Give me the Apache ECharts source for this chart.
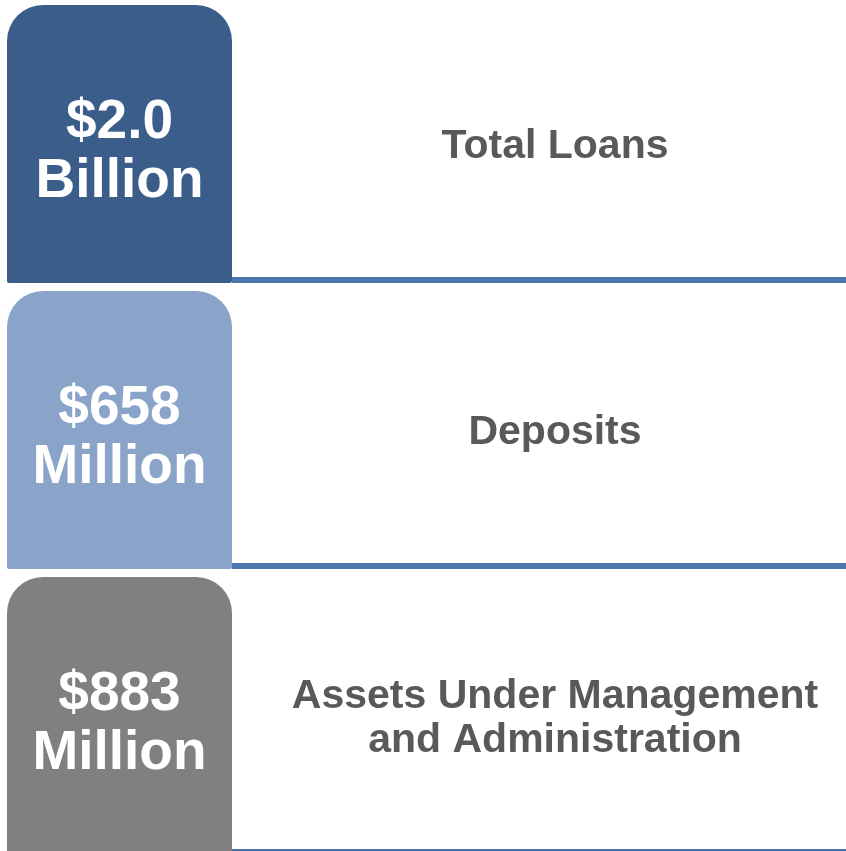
<!DOCTYPE html>
<html>
<head>
<meta charset="utf-8">
<script src="https://cdn.jsdelivr.net/npm/echarts@6/dist/echarts.min.js"></script>
<style>
  html, body { margin: 0; padding: 0; background: #fff; }
  #chart { width: 846px; height: 851px; }
</style>
</head>
<body>
<div id="chart"></div>
<script>
const categories = ['Total Loans', 'Deposits', 'Assets Under Management\nand Administration']
const amounts = ['$2.0', '$658', '$883']
const units = ['Billion', 'Million', 'Million']
const boxColors = ['#3a5d8a', '#8aa4c9', '#808080']

const FONT = '"Liberation Sans", Arial, sans-serif'

const chart = echarts.init(document.getElementById('chart'))

const renderRow = (params, api) => {
  const idx = api.value(1)
  const yc = api.coord([0, idx])[1]
  const band = api.size([0, 1])[1]
  const half = band / 2 - 4
  const boxL = api.coord([7, idx])[0]
  const boxR = api.coord([232, idx])[0]
  const lineR = api.coord([846, idx])[0]
  const labelX = api.coord([555, idx])[0]
  const boxX = (boxL + boxR) / 2
  return {
    type: 'group',
    children: [
      {
        type: 'rect',
        shape: { x: boxR, y: yc + half - 6, width: lineR - boxR, height: 6 },
        style: { fill: '#4a76ad' },
      },
      {
        type: 'rect',
        shape: { x: boxL, y: yc - half, width: boxR - boxL, height: half * 2, r: [36, 36, 2, 2] },
        style: { fill: boxColors[idx] },
      },
      {
        type: 'text',
        style: {
          text: amounts[idx] + '\n' + units[idx],
          x: boxX,
          y: yc + 8,
          align: 'center',
          verticalAlign: 'middle',
          fill: '#ffffff',
          fontSize: 55,
          fontWeight: 'bold',
          fontFamily: FONT,
          lineHeight: 59,
        },
      },
      {
        type: 'text',
        style: {
          text: categories[idx],
          x: labelX,
          y: yc + 3,
          align: 'center',
          verticalAlign: 'middle',
          fill: '#595959',
          fontSize: 41,
          fontWeight: 'bold',
          fontFamily: FONT,
          lineHeight: 44,
        },
      },
    ],
  }
}

chart.setOption({
  animation: false,
  grid: { left: 0, right: 0, top: 0, bottom: 0 },
  xAxis: { type: 'value', min: 0, max: 846, show: false },
  yAxis: { type: 'value', inverse: true, min: -0.5035, max: 2.472, show: false },
  series: [
    {
      type: 'custom',
      clip: false,
      encode: { x: 0, y: 1 },
      data: categories.map((name, i) => [0, i]),
      renderItem: renderRow,
    },
  ],
})
</script>
</body>
</html>
